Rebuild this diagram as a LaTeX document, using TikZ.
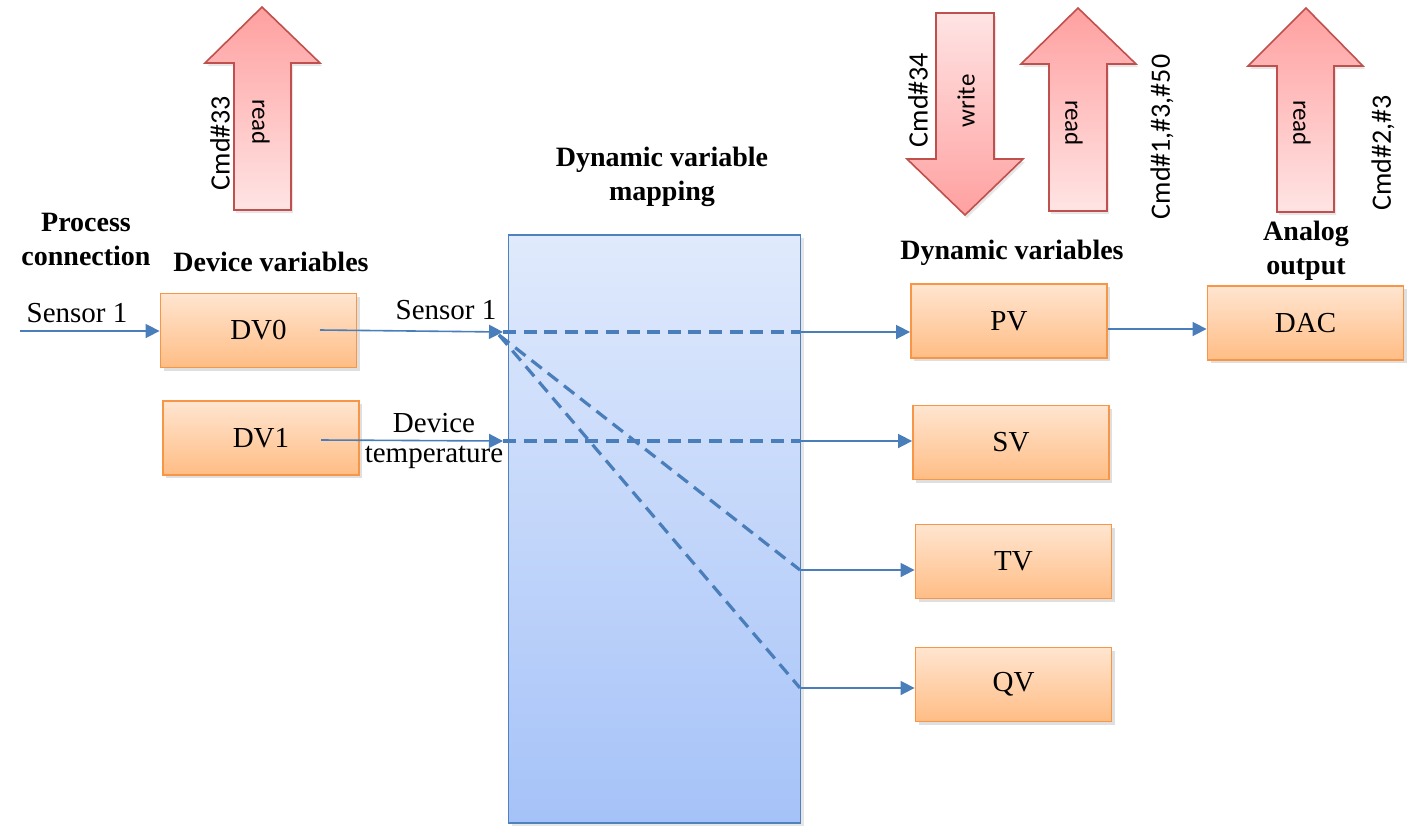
\documentclass[tikz,border=0pt]{standalone}
\usepackage{fontspec}
\setmainfont{Liberation Serif}
\newfontfamily\cmdfont{Carlito}
\usetikzlibrary{arrows.meta,shadows,calc}
\definecolor{lineblue}{HTML}{4A7EBB}
\definecolor{boxborder}{HTML}{F79646}
\definecolor{boxtop}{HTML}{FFE5D0}
\definecolor{boxbot}{HTML}{FFBD85}
\definecolor{maptop}{HTML}{E0EAFC}
\definecolor{mapbot}{HTML}{A5C2F8}
\definecolor{mapborder}{HTML}{4F81BD}
\definecolor{arrborder}{HTML}{C0504D}
\definecolor{arrdark}{HTML}{FFA0A0}
\definecolor{arrlight}{HTML}{FFE4E4}
\tikzset{
  varbox/.style={draw=boxborder, line width=0.9pt, top color=boxtop, bottom color=boxbot,
    minimum width=98pt, minimum height=37pt, inner sep=0pt, font=\fontsize{14.5}{16}\selectfont,
    drop shadow={opacity=0.25, shadow xshift=1.5pt, shadow yshift=-1.5pt}},
  conn/.style={draw=lineblue, line width=0.8pt, -{Triangle[length=7pt,width=7pt]}},
  mapline/.style={draw=lineblue, line width=1.6pt, dash pattern=on 6.5pt off 3.8pt},
  bigarrow/.style={draw=arrborder, line width=0.8pt,
    drop shadow={opacity=0.2, shadow xshift=1pt, shadow yshift=-1.5pt}},
  lbl/.style={font=\fontsize{14.5}{16}\selectfont, inner sep=0pt},
  title/.style={font=\bfseries\fontsize{14}{17}\selectfont, align=center, inner sep=0pt},
  cmd/.style={font=\cmdfont\fontsize{14}{16}\selectfont, rotate=90, inner sep=0pt},
  rw/.style={font=\cmdfont\fontsize{12.5}{14}\selectfont, inner sep=0pt}
}
\begin{document}
\begin{tikzpicture}[x=0.5pt,y=-0.5pt]
\path[use as bounding box] (0,0) rectangle (1408,825);

% big command arrows
\path[bigarrow, top color=arrdark, bottom color=arrlight]
  (262,7) -- (320,63) -- (291,63) -- (291,210) -- (234,210) -- (234,63) -- (205,63) -- cycle;
\path[bigarrow, top color=arrlight, bottom color=arrdark]
  (965,215) -- (1023,159) -- (994,159) -- (994,13) -- (936,13) -- (936,159) -- (907,159) -- cycle;
\path[bigarrow, top color=arrdark, bottom color=arrlight]
  (1078,8) -- (1136,64) -- (1107,64) -- (1107,211) -- (1049,211) -- (1049,64) -- (1021,64) -- cycle;
\path[bigarrow, top color=arrdark, bottom color=arrlight]
  (1306,8) -- (1363,66) -- (1334,66) -- (1334,212) -- (1277,212) -- (1277,66) -- (1248,66) -- cycle;

\node[rw, rotate=-90] (r1) at (261,122) {read};
\node[rw, rotate=90] (w1) at (966,101) {write};
\node[rw, rotate=-90] (r2) at (1074,123) {read};
\node[rw, rotate=-90] (r3) at (1302,123) {read};

\node[cmd] (c33) at (220,143) {Cmd\#33};
\node[cmd] (c34) at (918,100) {Cmd\#34};
\node[cmd] (c1) at (1162,137) {Cmd\#1,\#3,\#50};
\node[cmd] (c2) at (1383,153) {Cmd\#2,\#3};

% titles
\node[title] (tproc) at (86,239) {Process\\connection};
\node[title] (tdev) at (271,262) {Device variables};
\node[title] (tmap) at (662,177) {Dynamic variable\\mapping};
\node[title] (tdyn) at (1012,253) {Dynamic variables};
\node[title] (tao) at (1306,251) {Analog\\output};

% mapping block
\node[draw=mapborder, line width=0.8pt, top color=maptop, bottom color=mapbot,
  minimum width=146pt, minimum height=294pt, inner sep=0pt,
  drop shadow={opacity=0.2, shadow xshift=1.5pt, shadow yshift=-1.5pt}] (map) at (654.5,529) {};

% variable boxes
\node[varbox] (dv0) at (258.5,330.5) {DV0};
\node[varbox] (dv1) at (261,438) {DV1};
\node[varbox] (pv) at (1009,321) {PV};
\node[varbox] (dac) at (1305.5,323) {DAC};
\node[varbox] (sv) at (1011,442.5) {SV};
\node[varbox] (tv) at (1013.5,561.5) {TV};
\node[varbox] (qv) at (1013.5,684.5) {QV};

% coordinates
\coordinate (in) at (20,331);
\coordinate (s0) at (320,330);
\coordinate (e0) at (503,332);
\coordinate (s1) at (321,440);
\coordinate (e1) at (503,441);
\coordinate (d0) at (499,335);
\coordinate (m0) at (800,332);
\coordinate (m1) at (800,441);
\coordinate (m2) at (800,570);
\coordinate (m3) at (800,688);

% dashed mapping lines
\draw[mapline] (e0) -- (m0);
\draw[mapline] (e1) -- (m1);
\draw[mapline] (d0) -- (m2);
\draw[mapline] (d0) -- (m3);

% connectors
\draw[conn] (in) -- (in -| dv0.west);
\draw[conn] (s0) -- (e0);
\draw[conn] (s1) -- (e1);
\draw[conn] (m0) -- (pv.west |- m0);
\draw[conn] (m1) -- (sv.west |- m1);
\draw[conn] (m2) -- (tv.west |- m2);
\draw[conn] (m3) -- (qv.west |- m3);
\draw[conn] (pv.east |- 0,329) -- (dac.west |- 0,329);

% labels
\node[lbl] (ls) at (77,313) {Sensor 1};
\node[lbl] (ls1) at (446,310) {Sensor 1};
\node[lbl] (ld) at (434,423) {Device};
\node[lbl] (lt) at (434,457) {temperature};
\end{tikzpicture}
\end{document}
